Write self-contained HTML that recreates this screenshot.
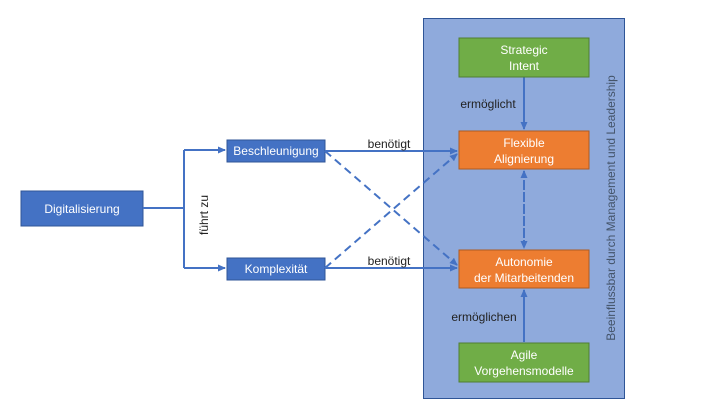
<!DOCTYPE html>
<html><head><meta charset="utf-8"><style>
body{margin:0;width:720px;height:405px;background:#fff;overflow:hidden;font-family:"Liberation Sans",sans-serif}
</style></head><body>
<svg width="720" height="405" xmlns="http://www.w3.org/2000/svg" font-family="Liberation Sans, sans-serif">
<defs><marker id="a" markerWidth="8" markerHeight="8" refX="7" refY="4" orient="auto" markerUnits="userSpaceOnUse"><path d="M0,0.5 L8,4 L0,7.5 Z" fill="#4472c4"/></marker></defs>
<rect x="423.5" y="18.5" width="201" height="380" fill="#8faadc" stroke="#2f5597" stroke-width="1"/>
<rect x="21" y="191" width="122" height="35" fill="#4472c4" stroke="#2f5597"/>
<text x="82" y="213" font-size="12" fill="#fff" text-anchor="middle">Digitalisierung</text>
<rect x="227" y="140" width="98" height="22" fill="#4472c4" stroke="#2f5597"/>
<text x="276" y="155" font-size="12" fill="#fff" text-anchor="middle">Beschleunigung</text>
<rect x="227" y="258" width="98" height="22" fill="#4472c4" stroke="#2f5597"/>
<text x="276" y="273" font-size="12" fill="#fff" text-anchor="middle">Komplexität</text>
<g stroke="#4472c4" stroke-width="2" fill="none">
<path d="M143,208 H184 M184,150 V268"/>
<path d="M184,150 H225" marker-end="url(#a)"/>
<path d="M184,268 H225" marker-end="url(#a)"/>
<path d="M325,151 H457" marker-end="url(#a)"/>
<path d="M325,268 H457" marker-end="url(#a)"/>
<path d="M325,151 L457,265" stroke-dasharray="8,5" marker-end="url(#a)"/>
<path d="M325,268 L457,154" stroke-dasharray="8,5" marker-end="url(#a)"/>
<path d="M524,77 V129" marker-end="url(#a)"/>
<path d="M524,342 V290" marker-end="url(#a)"/>
<path d="M524,180 V248" stroke-dasharray="7,5" marker-end="url(#a)"/>
<path d="M524,238 V171" stroke-dasharray="7,5" marker-end="url(#a)"/>
</g>
<text transform="translate(208,215) rotate(-90)" font-size="12" fill="#222" text-anchor="middle">führt zu</text>
<text x="389" y="148" font-size="12" fill="#222" text-anchor="middle">benötigt</text>
<text x="389" y="265" font-size="12" fill="#222" text-anchor="middle">benötigt</text>
<rect x="459" y="38" width="130" height="39" fill="#70ad47" stroke="#507e32"/>
<text x="524" y="54" font-size="12" fill="#fff" text-anchor="middle">Strategic</text>
<text x="524" y="70" font-size="12" fill="#fff" text-anchor="middle">Intent</text>
<rect x="459" y="131" width="130" height="38" fill="#ed7d31" stroke="#ae5a21"/>
<text x="524" y="147" font-size="12" fill="#fff" text-anchor="middle">Flexible</text>
<text x="524" y="163" font-size="12" fill="#fff" text-anchor="middle">Alignierung</text>
<rect x="459" y="250" width="130" height="38" fill="#ed7d31" stroke="#ae5a21"/>
<text x="524" y="266" font-size="12" fill="#fff" text-anchor="middle">Autonomie</text>
<text x="524" y="282" font-size="12" fill="#fff" text-anchor="middle">der Mitarbeitenden</text>
<rect x="459" y="343" width="130" height="39" fill="#70ad47" stroke="#507e32"/>
<text x="524" y="359" font-size="12" fill="#fff" text-anchor="middle">Agile</text>
<text x="524" y="375" font-size="12" fill="#fff" text-anchor="middle">Vorgehensmodelle</text>
<text x="488" y="108" font-size="12" fill="#222" text-anchor="middle">ermöglicht</text>
<text x="484" y="321" font-size="12" fill="#222" text-anchor="middle">ermöglichen</text>
<text transform="translate(615,208) rotate(-90)" font-size="12" fill="#44546a" text-anchor="middle">Beeinflussbar durch Management und Leadership</text>
</svg>
</body></html>
